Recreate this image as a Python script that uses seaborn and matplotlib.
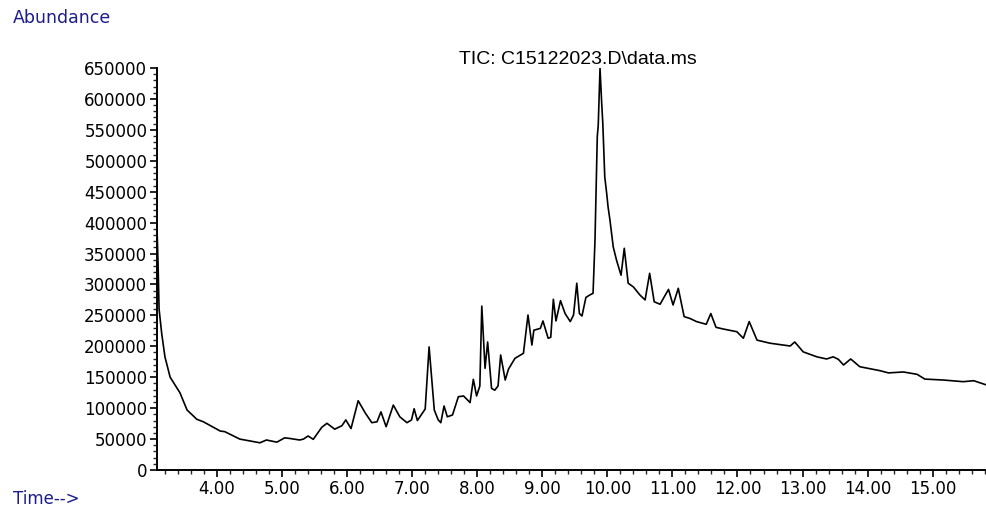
# TIC chromatogram recreated with seaborn

import numpy as np
import pandas as pd
import matplotlib
matplotlib.use("Agg")
import matplotlib.pyplot as plt
from matplotlib.ticker import MultipleLocator, FuncFormatter
import seaborn as sns

# retention time (min) and abundance
time_min = [
    3.08, 3.095, 3.11, 3.15, 3.20, 3.28, 3.43, 3.54, 3.69, 3.79,
    4.05, 4.12, 4.35, 4.66, 4.76, 4.92, 5.04, 5.12, 5.27, 5.33,
    5.40, 5.48, 5.61, 5.69, 5.81, 5.92, 5.98, 6.06, 6.17, 6.28,
    6.38, 6.46, 6.52, 6.60, 6.71, 6.81, 6.92, 6.99, 7.03, 7.08,
    7.20, 7.26, 7.34, 7.40, 7.44, 7.49, 7.54, 7.62, 7.71, 7.79,
    7.89, 7.94, 7.99, 8.04, 8.07, 8.12, 8.16, 8.22, 8.27, 8.32,
    8.36, 8.43, 8.48, 8.58, 8.71, 8.78, 8.84, 8.87, 8.97, 9.01,
    9.09, 9.13, 9.17, 9.21, 9.28, 9.35, 9.43, 9.48, 9.53, 9.57,
    9.61, 9.67, 9.73, 9.78, 9.81, 9.845, 9.86, 9.887, 9.913, 9.93,
    9.96, 9.99, 10.01, 10.04, 10.09, 10.14, 10.21, 10.26, 10.32, 10.40,
    10.50, 10.58, 10.65, 10.72, 10.81, 10.94, 11.01, 11.09, 11.18, 11.27,
    11.37, 11.52, 11.59, 11.67, 11.78, 11.99, 12.09, 12.18, 12.30, 12.50,
    12.70, 12.81, 12.88, 13.01, 13.22, 13.37, 13.47, 13.55, 13.63, 13.74,
    13.88, 14.19, 14.32, 14.55, 14.76, 14.88, 15.16, 15.47, 15.63, 15.83,
]
abundance = [
    385000, 330000, 260000, 221000, 183000, 150000, 125000, 97000, 82000, 78000,
    63000, 62000, 50000, 44000, 48500, 45000, 52000, 51000, 48500, 50000,
    55000, 49600, 69000, 75500, 66000, 71600, 81000, 67000, 112000, 92000,
    76500, 78000, 94000, 70000, 105000, 86000, 76500, 81000, 99000, 80000,
    98600, 199000, 97000, 81000, 76500, 103500, 86000, 89000, 118500, 119700,
    109000, 146600, 119700, 135800, 265000, 164400, 207000, 132000, 129000, 136000,
    186000, 145500, 163000, 180600, 188700, 250600, 202000, 226000, 229000, 241000,
    213000, 214600, 276000, 241000, 273800, 253000, 240000, 250600, 302000, 253000,
    249000, 279000, 283000, 285700, 372000, 539000, 558000, 649600, 593000, 560600,
    474000, 447000, 426000, 404000, 361000, 339600, 315000, 358500, 302000, 296000,
    283000, 275000, 318000, 272000, 268000, 292000, 266800, 293800, 248000, 245000,
    240000, 235600, 253000, 230700, 228000, 223600, 213000, 240000, 210000, 205000,
    202000, 200500, 207000, 191000, 183000, 179500, 183000, 179000, 169800, 179500,
    167000, 160600, 157000, 158500, 154700, 147000, 145500, 142800, 144400, 137400,
]

df = pd.DataFrame({"Time": time_min, "Abundance": abundance})

sns.set_style("ticks")
plt.rcParams["font.family"] = ["DejaVu Sans"]

fig = plt.figure(figsize=(9.87, 5.11), dpi=100)
ax = fig.add_axes([157 / 987, 41 / 511, 830 / 987, 402 / 511])

sns.lineplot(data=df, x="Time", y="Abundance", ax=ax, color="black",
             linewidth=1.2, estimator=None, sort=False)

ax.set_xlim(3.078, 15.835)
ax.set_ylim(0, 650000)
ax.xaxis.set_major_locator(MultipleLocator(1))
ax.xaxis.set_minor_locator(MultipleLocator(0.2))
ax.yaxis.set_major_locator(MultipleLocator(50000))
ax.yaxis.set_minor_locator(MultipleLocator(10000))
ax.xaxis.set_major_formatter(FuncFormatter(lambda v, p: f"{v:.2f}"))
ax.yaxis.set_major_formatter(FuncFormatter(lambda v, p: f"{int(v)}"))

ax.tick_params(axis="both", which="major", length=5, width=1.2,
               labelsize=12, colors="black", pad=2)
ax.tick_params(axis="both", which="minor", length=3, width=1.0)

for s in ["top", "right"]:
    ax.spines[s].set_visible(False)
for s in ["left", "bottom"]:
    ax.spines[s].set_linewidth(1.4)
    ax.spines[s].set_color("black")

ax.set_xlabel("")
ax.set_ylabel("")

# title and the two corner labels
fig.text(578 / 987, 1 - 60 / 511, "TIC: C15122023.D\\data.ms", ha="center",
         va="center", fontsize=14, color="black",
         family=["Liberation Sans", "DejaVu Sans"])
fig.text(13 / 987, 1 - 18 / 511, "Abundance", ha="left", va="center",
         fontsize=12.5, color="#1c1c8c")
fig.text(13 / 987, 3 / 511, "Time-->", ha="left", va="bottom",
         fontsize=12, color="#1c1c8c")

fig.savefig("out.png", dpi=100)
